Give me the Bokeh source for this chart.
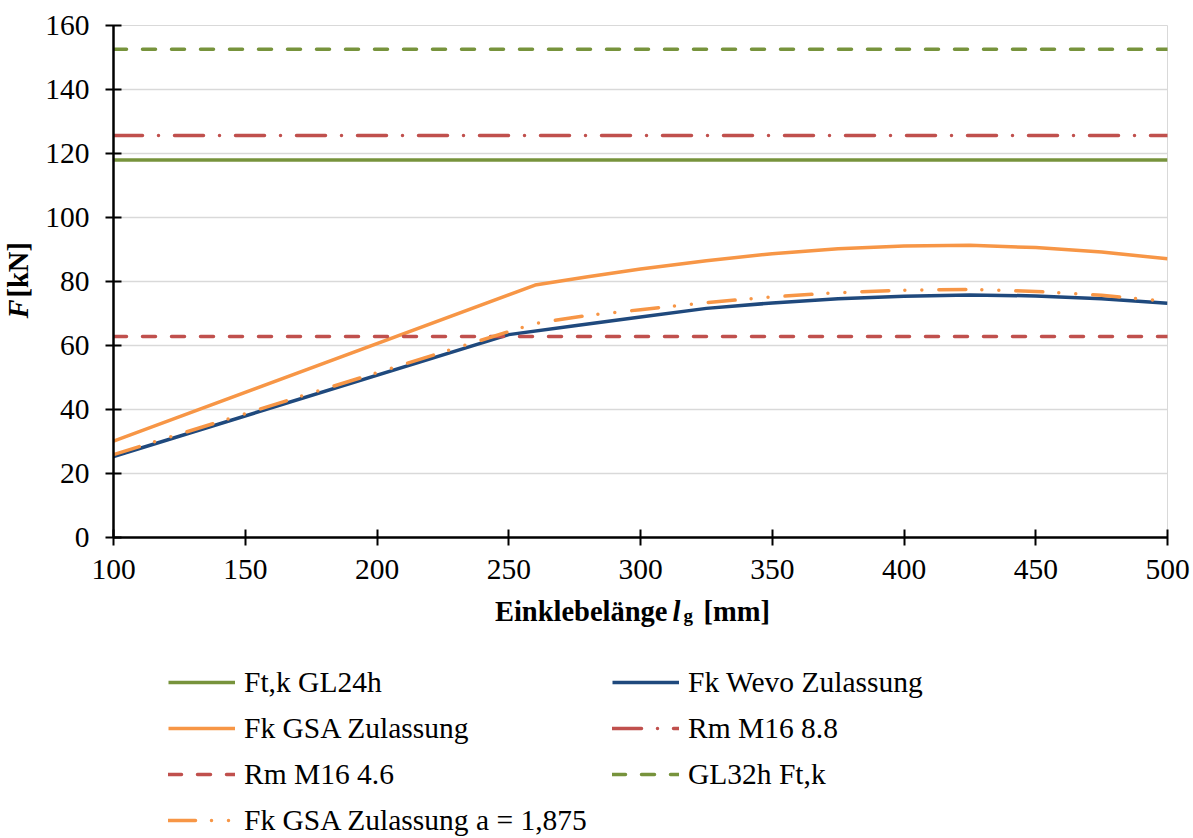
from bokeh.plotting import figure
from bokeh.layouts import row, column
from bokeh.models import Legend, LegendItem, Label, Range1d, FixedTicker
from bokeh.embed import file_html
from bokeh.resources import INLINE

# Bond length l_g (mm) and characteristic pull-out loads (kN)
lg_wevo = [100, 250, 275, 300, 325, 350, 375, 400, 425, 450, 475, 500]
fk_wevo = [25.3, 63.4, 66.2, 68.9, 71.6, 73.3, 74.6, 75.4, 75.8, 75.5, 74.6, 73.2]

lg_gsa = [100, 260, 280, 300, 325, 350, 375, 400, 425, 450, 475, 500]
fk_gsa = [30.1, 78.9, 81.5, 83.9, 86.5, 88.7, 90.2, 91.1, 91.3, 90.6, 89.2, 87.1]
fk_gsa_a = [25.9, 66.9, 69.4, 71.2, 73.4, 75.2, 76.5, 77.3, 77.5, 76.9, 75.7, 73.8]

# Constant resistances (kN)
lg_span = [100, 500]
ft_gl24h = 118.0
rm_m16_88 = 125.6
rm_m16_46 = 62.8
ft_gl32h = 152.6

x_ticks = [100, 150, 200, 250, 300, 350, 400, 450, 500]
y_ticks = [0, 20, 40, 60, 80, 100, 120, 140, 160]

GREEN = "#77933c"
BLUE = "#1f497d"
ORANGE = "#f79646"
RED = "#c0504d"
FONT = "Liberation Serif"
FS = "29.5px"
FS_TITLE = "28.5px"
LW = 3.5

# Series: (key, x values, y values, style)
series = [
    ("gl24", lg_span, [ft_gl24h, ft_gl24h], dict(line_color=GREEN, line_width=LW)),
    ("wevo", lg_wevo, fk_wevo, dict(line_color=BLUE, line_width=LW, line_join="round")),
    ("gsa", lg_gsa, fk_gsa, dict(line_color=ORANGE, line_width=LW, line_join="round")),
    ("m88", lg_span, [rm_m16_88, rm_m16_88],
     dict(line_color=RED, line_width=LW, line_dash="29 16 0 16", line_cap="round")),
    ("m46", lg_span, [rm_m16_46, rm_m16_46],
     dict(line_color=RED, line_width=LW, line_dash="13 16", line_cap="round")),
    ("gl32", lg_span, [ft_gl32h, ft_gl32h],
     dict(line_color=GREEN, line_width=LW, line_dash="13 16", line_cap="round")),
    ("gsa_a", lg_gsa, fk_gsa_a,
     dict(line_color=ORANGE, line_width=LW, line_dash="27 16 0 17 0 17",
          line_cap="round", line_join="round")),
]

TOTAL_W, TOTAL_H = 1193, 838
LEFT_W = 40          # strip holding the y axis title
MAIN_H = 592         # plot frame + x tick labels
FRAME_L, FRAME_R = 113, 1167

# ---------------- main chart ----------------
p = figure(width=TOTAL_W - LEFT_W, height=MAIN_H, output_backend="svg",
           toolbar_location=None, x_range=Range1d(100, 500), y_range=Range1d(0, 160),
           min_border_left=FRAME_L - LEFT_W, min_border_right=TOTAL_W - FRAME_R,
           min_border_top=25, min_border_bottom=MAIN_H - 537)
p.outline_line_color = "#d9d9d9"
p.outline_line_width = 1

for ax in (p.xaxis[0], p.yaxis[0]):
    ax.axis_line_color = "black"
    ax.axis_line_width = 2.5
    ax.major_tick_line_color = "black"
    ax.major_tick_line_width = 2
    ax.major_tick_in = 8
    ax.major_tick_out = 8
    ax.minor_tick_line_color = None
    ax.major_label_text_font = FONT
    ax.major_label_text_font_size = FS
    ax.major_label_text_color = "black"
p.xaxis.ticker = FixedTicker(ticks=x_ticks)
p.yaxis.ticker = FixedTicker(ticks=y_ticks)
p.xaxis.major_label_standoff = 14
p.yaxis.major_label_standoff = 16

p.xgrid.grid_line_color = None
p.ygrid.ticker = FixedTicker(ticks=y_ticks)
p.ygrid.grid_line_color = "#d9d9d9"
p.ygrid.grid_line_width = 1.5

for key, xs, ys, st in series:
    p.line(xs, ys, **st)

# ---------------- y axis title strip ----------------
ytitle = figure(width=LEFT_W, height=TOTAL_H, output_backend="svg", toolbar_location=None,
                x_range=Range1d(0, LEFT_W), y_range=Range1d(0, TOTAL_H),
                x_axis_type=None, y_axis_type=None,
                min_border_left=0, min_border_right=0, min_border_top=0, min_border_bottom=0)
ytitle.outline_line_color = None
ytitle.grid.grid_line_color = None
ytitle.add_layout(Label(x=18, y=TOTAL_H - 318, text="F", angle=1.5708, text_align="left",
                        text_baseline="middle", text_font=FONT, text_font_size=FS_TITLE,
                        text_font_style="bold italic", text_color="black"))
ytitle.add_layout(Label(x=18, y=TOTAL_H - 297, text="[kN]", angle=1.5708, text_align="left",
                        text_baseline="middle", text_font=FONT, text_font_size=FS_TITLE,
                        text_font_style="bold", text_color="black"))

# ---------------- x axis title + legend ----------------
BOT_H = TOTAL_H - MAIN_H
bottom = figure(width=TOTAL_W - LEFT_W, height=BOT_H, output_backend="svg",
                toolbar_location=None,
                x_range=Range1d(FRAME_L, FRAME_R), y_range=Range1d(0, BOT_H),
                x_axis_type=None, y_axis_type=None,
                min_border_left=0, min_border_right=0, min_border_top=0, min_border_bottom=0)
bottom.outline_line_color = None
bottom.grid.grid_line_color = None
# legend samples live on a range that keeps their lines out of view
bottom.extra_x_ranges = {"series_x": Range1d(-2000, -1000)}
bottom.extra_y_ranges = {"series_y": Range1d(-2000, -1000)}


def title_label(x, py, text, style, size=FS_TITLE):
    return Label(x=x, y=TOTAL_H - py, y_units="screen", text=text, text_align="left",
                 text_baseline="alphabetic", text_font=FONT, text_font_size=size,
                 text_font_style=style, text_color="black")


t1 = title_label(667, 611, "Einklebelänge", "bold")
t1.text_align = "right"
bottom.add_layout(t1)
bottom.add_layout(title_label(672, 611, "l", "bold italic"))
bottom.add_layout(title_label(683, 615, "g", "bold", "19px"))
bottom.add_layout(title_label(703, 611, "[mm]", "bold"))

samples = {key: bottom.line(xs, ys, x_range_name="series_x", y_range_name="series_y", **st)
           for key, xs, ys, st in series}


def make_legend(items, x, y):
    lg = Legend(items=items, location=(x, y))
    lg.label_text_font = FONT
    lg.label_text_font_size = FS
    lg.label_text_color = "black"
    lg.label_text_baseline = "middle"
    lg.glyph_width = 67
    lg.glyph_height = 46
    lg.label_height = 46
    lg.label_standoff = 9
    lg.spacing = 0
    lg.padding = 0
    lg.margin = 0
    lg.border_line_color = None
    lg.background_fill_alpha = 0
    return lg


leg1 = make_legend([
    LegendItem(label="Ft,k GL24h", renderers=[samples["gl24"]]),
    LegendItem(label="Fk GSA Zulassung", renderers=[samples["gsa"]]),
    LegendItem(label="Rm M16 4.6", renderers=[samples["m46"]]),
    LegendItem(label="Fk GSA Zulassung a = 1,875", renderers=[samples["gsa_a"]]),
], 168 - FRAME_L, TOTAL_H - 843)
leg2 = make_legend([
    LegendItem(label="Fk Wevo Zulassung", renderers=[samples["wevo"]]),
    LegendItem(label="Rm M16 8.8", renderers=[samples["m88"]]),
    LegendItem(label="GL32h Ft,k", renderers=[samples["gl32"]]),
], 612 - FRAME_L, TOTAL_H - 797)
bottom.add_layout(leg1)
bottom.add_layout(leg2)

layout = row(ytitle, column(p, bottom))
open("out.html", "w").write(file_html(layout, INLINE))
